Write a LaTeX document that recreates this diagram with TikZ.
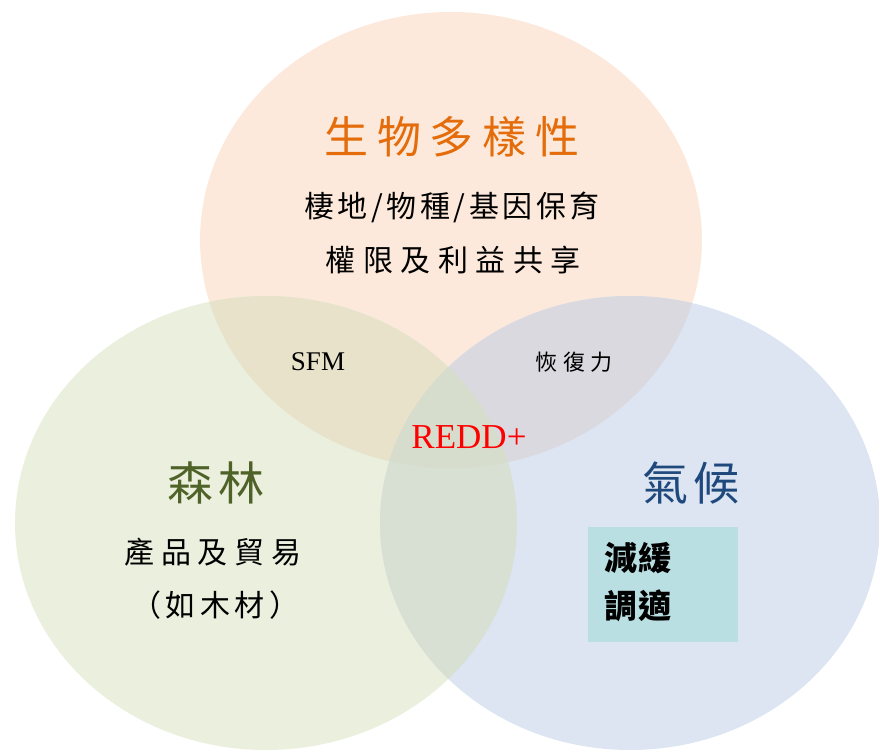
\documentclass[tikz,border=0pt]{standalone}
\usepackage{fontspec}
\setmainfont{Liberation Serif}
\newfontfamily\cjk{Noto Sans CJK TC}
\definecolor{topc}{HTML}{FCE9DB}
\definecolor{leftc}{HTML}{EBEFDE}
\definecolor{rightc}{HTML}{DCE5F1}
\definecolor{tlc}{HTML}{E7E2C9}
\definecolor{trc}{HTML}{DAD9DF}
\definecolor{lrc}{HTML}{D7E0D3}
\definecolor{allc}{HTML}{D6DDCC}
\definecolor{bioorange}{HTML}{E46C0A}
\definecolor{forestgreen}{HTML}{4F6228}
\definecolor{climblue}{HTML}{1F497D}
\definecolor{boxc}{HTML}{B9DFE3}
\definecolor{reddred}{HTML}{FF0000}
\tikzset{
  cjktext/.style={inner sep=0pt, text=black, font=\cjk\fontsize{#1}{#1}\selectfont},
  cjkbold/.style={inner sep=0pt, text=black, font=\cjk\fontsize{#1}{#1}\selectfont\bfseries},
  latintext/.style={inner sep=0pt, font=\fontsize{#1}{#1}\selectfont},
}
\newcommand{\spaced}[2]{\addfontfeature{LetterSpace=#1}#2}
\begin{document}
\begin{tikzpicture}[x=1pt,y=-1pt]
\useasboundingbox (0,0) rectangle (879,751);
\def\topE{(451,240) ellipse [x radius=251pt, y radius=228pt]}
\def\leftE{(266,523) ellipse [x radius=251pt, y radius=227pt]}
\def\rightE{(630,523) ellipse [x radius=250pt, y radius=227pt]}
% base fills
\fill[topc] \topE;
\fill[leftc] \leftE;
\fill[rightc] \rightE;
% pairwise overlaps
\begin{scope}
  \clip \topE;
  \fill[tlc] \leftE;
  \fill[trc] \rightE;
\end{scope}
\begin{scope}
  \clip \leftE;
  \fill[lrc] \rightE;
\end{scope}
\begin{scope}
  \clip \topE;
  \clip \leftE;
  \fill[allc] \rightE;
\end{scope}
% texts: biodiversity
\node[cjktext=44, text=bioorange] (bio) at (452,137) {\spaced{20}{生物多樣性}};
\node[cjktext=30] (bio1) at (452,207) {\spaced{12}{棲地/物種/基因保育}};
\node[cjktext=30] (bio2) at (453,260) {\spaced{25}{權限及利益共享}};
% intersections
\node[latintext=27] (sfm) at (318,362) {SFM};
\node[cjktext=22] (res) at (574,362) {\spaced{25}{恢復力}};
\node[latintext=35, text=reddred] (redd) at (469,437) {REDD+};
% forest
\node[cjktext=46, text=forestgreen] (forest) at (216,483) {\spaced{12}{森林}};
\node[cjktext=30] (for1) at (213,552) {\spaced{22}{產品及貿易}};
\node[cjktext=30] (for2) at (215,605) {\spaced{15}{（如木材）}};
% climate
\node[cjktext=46, text=climblue] (climate) at (691,483) {\spaced{12}{氣候}};
\node[fill=boxc, inner sep=0pt, minimum width=150pt, minimum height=115pt] (box) at (663,584.5) {};
\node[cjkbold=33, anchor=west] (mit) at (604,558) {\spaced{5}{減緩}};
\node[cjkbold=33, anchor=west] (ada) at (604,606) {\spaced{5}{調適}};
\end{tikzpicture}
\end{document}
